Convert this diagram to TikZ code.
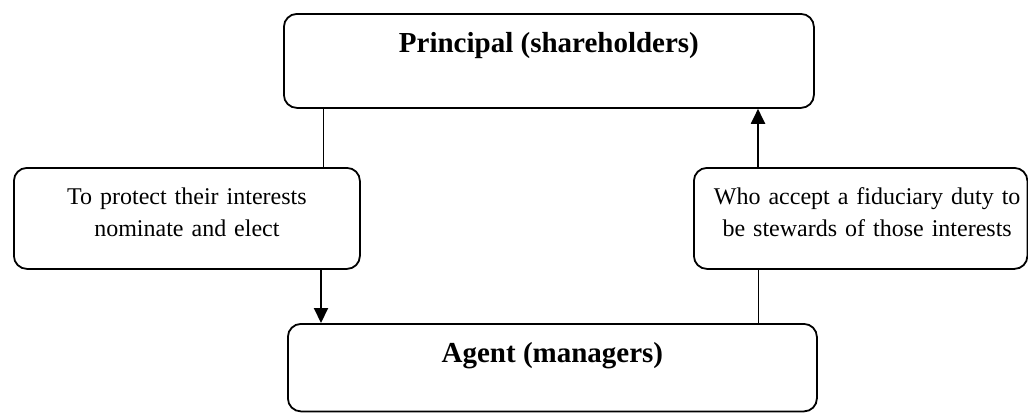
\documentclass[tikz,border=0pt]{standalone}
\usepackage{fontspec}
\setmainfont{Liberation Serif}
\usetikzlibrary{arrows.meta}
\begin{document}
\begin{tikzpicture}[x=1bp,y=-1bp,
  box/.style={draw, line width=1.8bp, rounded corners=13bp, inner sep=0pt, anchor=north west},
  headbox/.style={box, font=\bfseries\fontsize{29bp}{34bp}\selectfont},
  notebox/.style={box, align=center, font=\fontsize{24bp}{32bp}\selectfont},
  link/.style={line width=1bp},
  flow/.style={line width=2bp, -{Triangle[length=15bp,width=14bp]}}]
  \fill[white] (0,0) rectangle (1028,412);
  \useasboundingbox (0,0) rectangle (1028,412);

  % main parties
  \node[headbox, minimum width=530bp, text height=39bp, text depth=55bp]
    (pr) at (283,13) {Principal (shareholders)};
  \node[headbox, minimum width=529bp, text height=39bp, text depth=48.5bp]
    (ag) at (287,323) {Agent (managers)};

  % relationship notes
  \node[notebox, text width=346bp, text height=37bp, text depth=64bp]
    (lb) at (13,167) {To protect their interests\\nominate and elect};
  \node[notebox, text width=333.5bp, text height=37bp, text depth=64bp]
    (rb) at (693,167) {\hspace*{13bp}Who accept a fiduciary duty to\\\hspace*{13bp}be stewards of those interests};

  % connector columns
  \coordinate (lup) at (323,0);
  \coordinate (ldn) at (321,0);
  \coordinate (rcol) at (758,0);

  \draw[link] (pr.south -| lup) -- (lb.north -| lup);
  \draw[flow] (lb.south -| ldn) -- (ag.north -| ldn);
  \draw[link] (ag.north -| rcol) -- (rb.south -| rcol);
  \draw[flow] (rb.north -| rcol) -- (pr.south -| rcol);
\end{tikzpicture}
\end{document}
